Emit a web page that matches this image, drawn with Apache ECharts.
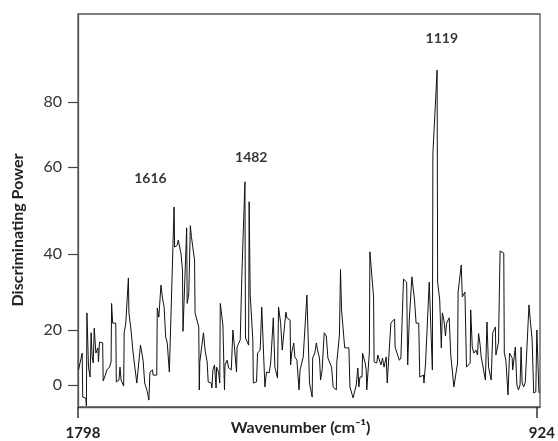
<!DOCTYPE html>
<html>
<head>
<meta charset="utf-8">
<script src="https://cdn.jsdelivr.net/npm/echarts@6/dist/echarts.min.js"></script>
<style>html,body{margin:0;padding:0;background:#fff}#main{width:558px;height:441px}</style>
</head>
<body>
<div id="main"></div>
<script>
// Wavenumber (cm-1) of each traced point
const wavenumbers = [
1797,1790,1789,1783,1782,1781,1778,1775,1773,1771,
1769,1767,1764,1760,1759,1757,1751,1750,1746,1743,
1738,1735,1734,1732,1726,1725,1720,1718,1716,1711,
1710,1707,1702,1701,1697,1693,1686,1679,1674,1671,
1666,1663,1661,1656,1655,1648,1647,1644,1640,1637,
1634,1631,1628,1624,1615,1614,1609,1607,1602,1599,
1598,1591,1590,1587,1584,1582,1576,1575,1568,1567,
1566,1559,1556,1552,1550,1544,1543,1541,1538,1535,
1534,1530,1528,1527,1522,1519,1518,1514,1511,1506,
1503,1500,1496,1495,1489,1486,1480,1479,1473,1472,
1470,1465,1464,1458,1456,1451,1448,1442,1439,1434,
1431,1426,1423,1418,1416,1412,1409,1402,1400,1394,
1393,1391,1387,1385,1381,1377,1375,1369,1362,1357,
1352,1351,1347,1344,1341,1338,1336,1333,1329,1325,
1322,1315,1312,1306,1305,1300,1298,1296,1290,1282,
1280,1274,1268,1265,1263,1261,1257,1256,1251,1249,
1248,1243,1242,1235,1234,1229,1227,1221,1218,1215,
1211,1209,1202,1195,1194,1186,1183,1178,1172,1170,
1167,1162,1157,1154,1149,1147,1140,1139,1136,1129,
1123,1122,1114,1113,1109,1106,1104,1101,1098,1096,
1091,1088,1082,1078,1075,1074,1068,1066,1061,1058,
1051,1050,1047,1044,1040,1037,1035,1032,1030,1022,
1019,1016,1011,1008,1003,1002,997,994,987,986,
983,979,976,971,970,967,965,962,959,956,
954,952,949,946,943,939,936,933,930,926,
924,920
];
// Discriminating power at each point
const power = [
5.5,11.6,-4.4,-4.8,-7.6,24.5,6.5,2.9,19,10.2,
8,20.5,11.6,13.5,8.4,15.6,15.3,1.5,3.6,5.5,
6.5,8.4,27,21.8,21.8,1.1,1.8,6.5,1.8,-0.4,
19,21.8,33.7,24.5,20,11.6,0.7,14.5,9,0.7,
-2.4,-5.5,4.7,5.5,3.6,3.6,25.8,23.4,31.8,28.4,
26,17.5,15.3,4.7,50.8,41.6,42,43.2,40.2,35.8,
19.5,46,27,29.5,46.5,44,38.4,24.5,20.8,-1.8,
8.4,19,12.7,8.4,1.1,0.7,-1.1,5.5,7.3,-1.1,
6.5,4.4,0.7,27,21.3,-1.8,7.3,9,6.2,5.5,
20,13.8,4.7,13.8,16.4,34,56.6,17.1,14.5,52,
29.5,16.4,0.7,1.1,11.6,12.7,26,-0.7,4.7,4.4,
8,23.2,6.5,2.5,26,21.8,12.7,24.7,23.2,22.6,
7.3,11.6,15.3,10.2,9,-1.8,5.5,10.2,29.2,0.7,
-4.4,9.8,11.6,15.3,12,9.8,1.8,5.5,19,17.8,
9.8,6.5,-0.7,-1.8,8.4,18.2,35.9,25.3,13.5,13.5,
-0.7,-4.7,0,6.2,-0.7,2.9,2.9,11.6,8,5.5,
-1.8,12,40.5,28.7,8.4,8,10.9,7.3,9.8,6.5,
10.2,0.7,21.8,22.9,13.8,9,9.8,33.4,32.6,7.3,
22.6,34,27.9,21.8,21.8,2.9,3.6,0.7,8,32.6,
5.5,64.2,89.8,32.6,27.9,13.5,24.5,22.6,17.8,21.8,
23.2,10.9,-0.7,4.4,8,30,37.1,28.7,30,6.5,
8,25.3,13.8,11.6,12.7,10.9,18.7,14.5,10.2,1.8,
22.1,6.5,1.8,19,20.8,10.9,15.6,40.7,40.2,11.6,
9,-3.6,11.6,9.8,5.5,5.5,13.8,0,-1.8,0,
13.8,0.7,-0.7,1.1,0.7,26.6,21.8,16.4,-2.9,-2.5,
20,-2.9
];
const yTickValues = [0, 20, 40, 60, 80];
const xTickLabels = [1798, 924];
const peakLabels = ['1616', '1482', '1119'];
const peakLabelWn = [1660, 1468, 1105];
const peakLabelPower = [57.4, 62.8, 99.4];

// The reference's power axis is not evenly spaced: piecewise scale knots
const scaleKnots = [0, 20, 40, 60, 80];
const scaleHeights = [0, 55, 131, 218, 283];
function toAxis(v) {
  if (v <= scaleKnots[0]) return v * (scaleHeights[1] - scaleHeights[0]) / (scaleKnots[1] - scaleKnots[0]);
  for (let i = 0; i < scaleKnots.length - 1; i++) {
    if (v <= scaleKnots[i + 1]) {
      const t = (v - scaleKnots[i]) / (scaleKnots[i + 1] - scaleKnots[i]);
      return scaleHeights[i] + t * (scaleHeights[i + 1] - scaleHeights[i]);
    }
  }
  const n = scaleKnots.length - 1;
  return scaleHeights[n] + (v - scaleKnots[n]) * (scaleHeights[n] - scaleHeights[n - 1]) / (scaleKnots[n] - scaleKnots[n - 1]);
}
const yTickPos = yTickValues.map(toAxis);

const chart = echarts.init(document.getElementById('main'));
chart.setOption({
  animation: false,
  grid: { left: 78, right: 18, top: 14, bottom: 34, show: true, borderColor: '#555', borderWidth: 1.3 },
  xAxis: {
    type: 'value', inverse: true, min: 918, max: 1798,
    axisLine: { show: true, onZero: false, lineStyle: { color: '#555', width: 1.3 } },
    axisTick: { show: true, length: 11, customValues: xTickLabels, lineStyle: { color: '#333', width: 1.5 } },
    axisLabel: { customValues: xTickLabels, formatter: v => String(v), fontFamily: 'Lato', fontWeight: 'bold', fontSize: 15, color: '#222', margin: 19, padding: [0, 0, 0, 10] },
    splitLine: { show: false }
  },
  yAxis: {
    type: 'value', min: -22, max: 371,
    axisLine: { show: true, onZero: false, lineStyle: { color: '#555', width: 1.3 } },
    axisTick: { show: true, length: 10, customValues: yTickPos, lineStyle: { color: '#444', width: 1.2 } },
    axisLabel: {
      customValues: yTickPos, fontFamily: 'Lato', fontSize: 16, color: '#333', margin: 16,
      formatter: function (val) {
        const i = yTickPos.findIndex(p => Math.abs(p - val) < 0.5);
        return i >= 0 ? String(yTickValues[i]) : '';
      }
    },
    splitLine: { show: false }
  },
  graphic: [
    { type: 'text', x: 17.5, y: 230, rotation: Math.PI / 2,
      style: { text: 'Discriminating Power', fontFamily: 'Lato', fontWeight: 'bold', fontSize: 16, fill: '#222', align: 'center', verticalAlign: 'middle' } },
    { type: 'text', x: 300.5, y: 428,
      style: { text: 'Wavenumber (cm\u207B\u00B9)', fontFamily: 'Lato', fontWeight: 'bold', fontSize: 16, fill: '#222', align: 'center', verticalAlign: 'middle' } }
  ],
  series: [
    {
      type: 'line', symbol: 'none', silent: true,
      lineStyle: { color: '#111', width: 1 },
      data: wavenumbers.map((w, i) => [w, toAxis(power[i])])
    },
    {
      type: 'scatter', symbolSize: 0, silent: true,
      itemStyle: { color: 'rgba(0,0,0,0)' },
      label: { show: true, position: 'inside', fontFamily: 'Lato', fontWeight: 'bold', fontSize: 14, color: '#000' },
      data: peakLabelWn.map((w, i) => ({ value: [w, toAxis(peakLabelPower[i])], label: { formatter: peakLabels[i] } }))
    }
  ]
});
</script>
</body>
</html>
